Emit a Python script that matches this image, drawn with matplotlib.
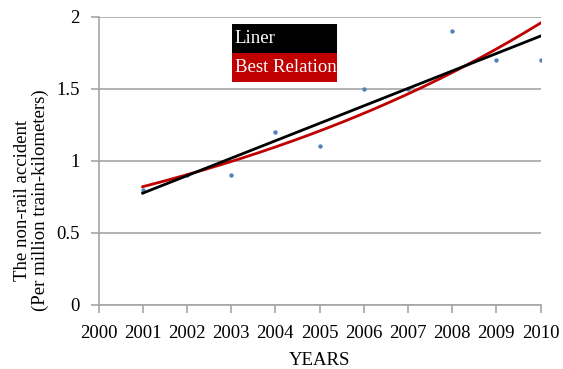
import numpy as np
import matplotlib
matplotlib.use("Agg")
import matplotlib.pyplot as plt
from matplotlib.patches import Rectangle

plt.rcParams['font.family'] = ['Liberation Serif', 'DejaVu Serif']

# Observed accident rates (per million train-kilometers)
years = [2001, 2002, 2003, 2004, 2005, 2006, 2007, 2008, 2009, 2010]
rates = [0.8, 0.9, 0.9, 1.2, 1.1, 1.5, 1.5, 1.9, 1.7, 1.7]
x_ticks = list(range(2000, 2011))
y_ticks = [0, 0.5, 1, 1.5, 2]
legend_labels = ["Liner", "Best Relation"]

x = np.array(years, dtype=float)
y = np.array(rates, dtype=float)

# Linear trend and exponential ("best relation") trend fitted to the data
lin_coef = np.polyfit(x, y, 1)
exp_coef = np.polyfit(x, np.log(y), 1)
xf = np.linspace(x.min(), x.max(), 200)
lin_fit = np.polyval(lin_coef, xf)
exp_fit = np.exp(np.polyval(exp_coef, xf))

W, H = 563, 369
fig = plt.figure(figsize=(W / 100, H / 100), dpi=100)
ax = fig.add_axes([98.5 / W, 1 - 304.7 / H, 442 / W, 288 / H])

grid_c = '#a6a6a6'
fs = 13.5
ax.set_xlim(2000, 2010)
ax.set_ylim(0, 2)
ax.set_xticks(x_ticks)
ax.set_xticklabels([str(t) for t in x_ticks])
ax.set_yticks(y_ticks)
ax.set_yticklabels(['0', '0.5', '1', '1.5', '2'])
ax.yaxis.grid(True, color=grid_c, linewidth=1.2)
ax.set_axisbelow(True)
for s in ('top', 'right'):
    ax.spines[s].set_visible(False)
for s in ('left', 'bottom'):
    ax.spines[s].set_color(grid_c)
    ax.spines[s].set_linewidth(1.2)
ax.tick_params(axis='both', colors=grid_c, length=5.5, width=1.2,
               labelcolor='black', labelsize=fs)
ax.tick_params(axis='x', pad=9)
ax.tick_params(axis='y', pad=8)

ax.scatter(x, y, s=10, color='#4f81bd', zorder=3, linewidths=0)
ax.plot(xf, exp_fit, color='#c00000', linewidth=2.0, zorder=4)
ax.plot(xf, lin_fit, color='black', linewidth=2.0, zorder=4)

ax.set_xlabel('YEARS', fontsize=fs, labelpad=7)
ax.set_ylabel('The non-rail accident\n(Per million train-kilometers)',
              fontsize=fs, linespacing=1.05)
ax.yaxis.set_label_coords(-(98.5 - 49) / 442, (304.7 - 200) / 288)

# Boxed legend: black block for the linear fit, red block for the best fit
lx0, lx1 = 0.3027, 0.539
ly = [0.9747, 0.873, 0.7733]
for i, (lab, col) in enumerate(zip(legend_labels, ['black', '#c00000'])):
    ax.add_patch(Rectangle((lx0, ly[i + 1]), lx1 - lx0, ly[i] - ly[i + 1],
                           transform=ax.transAxes, facecolor=col,
                           edgecolor='none', zorder=5, clip_on=False))
    ax.text(lx0 + 0.006, (ly[i] + ly[i + 1]) / 2, lab, transform=ax.transAxes,
            color='white', fontsize=fs, va='center', ha='left', zorder=6)

fig.savefig('out.png', dpi=100)
